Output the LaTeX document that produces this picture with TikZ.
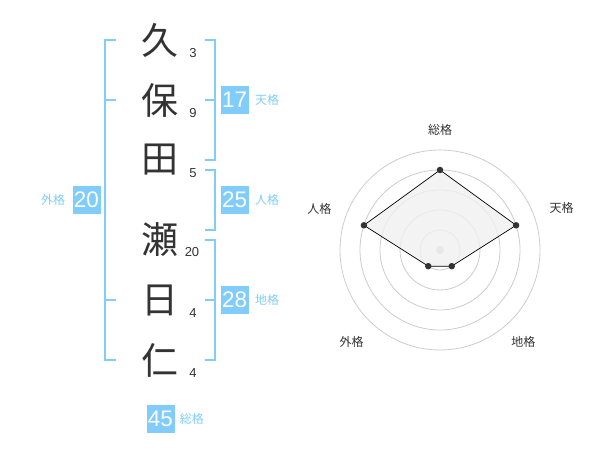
\documentclass[tikz,border=0pt]{standalone}
\usepackage{fontspec}
\setmainfont{Liberation Sans}
\newfontfamily\jfont{Noto Sans CJK JP}
\usetikzlibrary{positioning}
\definecolor{kakublue}{RGB}{128,204,250}
\definecolor{inkgray}{RGB}{51,51,51}
\tikzset{
    kanji/.style={font=\jfont\fontsize{37}{37}\selectfont, text=inkgray, inner sep=0pt},
    strokes/.style={font=\fontsize{13}{13}\selectfont, text=inkgray, inner sep=0pt},
    kakubox/.style={fill=kakublue, text=white, minimum width=28pt, minimum height=28pt, inner sep=0pt, font=\fontsize{22.5}{22.5}\selectfont},
    kakuname/.style={text=kakublue, font=\jfont\fontsize{12}{12}\selectfont, inner sep=0pt},
    brace/.style={draw=kakublue, line width=2pt},
    ring/.style={draw=black!20, line width=0.8pt},
    radarname/.style={text=inkgray, font=\jfont\fontsize{12}{12}\selectfont, inner sep=0pt},
    dot/.style={fill=inkgray, circle, inner sep=0pt, minimum size=6.5pt}
}

\begin{document}
\begin{tikzpicture}[x=1pt, y=-1pt]
    \def \U {20}
    \useasboundingbox (0,0) rectangle (600,470);
    % name
    \node[kanji] (k1) at (160,40) {久};
    \node[kanji] (k2) at (160,100) {保};
    \node[kanji] (k3) at (160,160) {田};
    \node[kanji] (k4) at (160,240) {瀬};
    \node[kanji] (k5) at (160,300) {日};
    \node[kanji] (k6) at (160,360) {仁};
    \node[strokes] (s1) at (193,53) {3};
    \node[strokes] (s2) at (193,113) {9};
    \node[strokes] (s3) at (193,173) {5};
    \node[strokes] (s4) at (192,252) {20};
    \node[strokes] (s5) at (193,313) {4};
    \node[strokes] (s6) at (193,373) {4};
    % brackets
    \coordinate (g1) at (116,40);
    \coordinate (g2) at (105,40);
    \coordinate (g3) at (105,360);
    \coordinate (g4) at (116,360);
    \coordinate (g5) at (105,100);
    \coordinate (g6) at (116,100);
    \coordinate (g7) at (105,300);
    \coordinate (g8) at (116,300);
    \draw[brace] (g1) -- (g2) -- (g3) -- (g4);
    \draw[brace] (g5) -- (g6);
    \draw[brace] (g7) -- (g8);
    \coordinate (t1) at (205,40);
    \coordinate (t2) at (214.5,40);
    \coordinate (t3) at (214.5,160);
    \coordinate (t4) at (205,160);
    \coordinate (t5) at (205,100);
    \coordinate (t6) at (214.5,100);
    \draw[brace] (t1) -- (t2) -- (t3) -- (t4);
    \draw[brace] (t5) -- (t6);
    \coordinate (j1) at (205,170);
    \coordinate (j2) at (214.5,170);
    \coordinate (j3) at (214.5,230);
    \coordinate (j4) at (205,230);
    \draw[brace] (j1) -- (j2) -- (j3) -- (j4);
    \coordinate (c1) at (205,240);
    \coordinate (c2) at (214.5,240);
    \coordinate (c3) at (214.5,360);
    \coordinate (c4) at (205,360);
    \coordinate (c5) at (205,300);
    \coordinate (c6) at (214.5,300);
    \draw[brace] (c1) -- (c2) -- (c3) -- (c4);
    \draw[brace] (c5) -- (c6);
    % boxes
    \node[kakubox] (ten) at (234.7,100) {17};
    \node[kakubox] (jin) at (234.7,200) {25};
    \node[kakubox] (chi) at (234.7,300) {28};
    \node[kakubox] (gai) at (86.5,200) {20};
    \node[kakubox] (sou) at (160.5,419) {45};
    \node[kakuname, right=6pt of ten] {天格};
    \node[kakuname, right=6pt of jin] {人格};
    \node[kakuname, right=6pt of chi] {地格};
    \node[kakuname, left=7pt of gai] {外格};
    \node[kakuname, right=5pt of sou] {総格};
    % radar
    \begin{scope}[shift={(440,250)}, yscale=-1]
    \coordinate (o) at (0,0);
    \foreach \r in {1,...,5}
        \draw[ring] (o) circle ({\r*\U});
    \fill[black!20] (o) circle (4);
    \coordinate (p1) at (90:4*\U);
    \coordinate (p2) at (18:4*\U);
    \coordinate (p3) at (-54:1*\U);
    \coordinate (p4) at (-126:1*\U);
    \coordinate (p5) at (162:4*\U);
    \filldraw[fill=black!6, fill opacity=0.8, draw=black, line width=0.7pt] (p1) -- (p2) -- (p3) -- (p4) -- (p5) -- cycle;
    \foreach \p in {p1,p2,p3,p4,p5}
        \node[dot] at (\p) {};
    \node[radarname] (r1) at (0,120) {総格};
    \node[radarname] (r2) at (121.7,41.7) {天格};
    \node[radarname] (r3) at (83.3,-92.3) {地格};
    \node[radarname] (r4) at (-88.3,-92.3) {外格};
    \node[radarname] (r5) at (-120.7,41) {人格};
    \end{scope}
\end{tikzpicture}
\end{document}
